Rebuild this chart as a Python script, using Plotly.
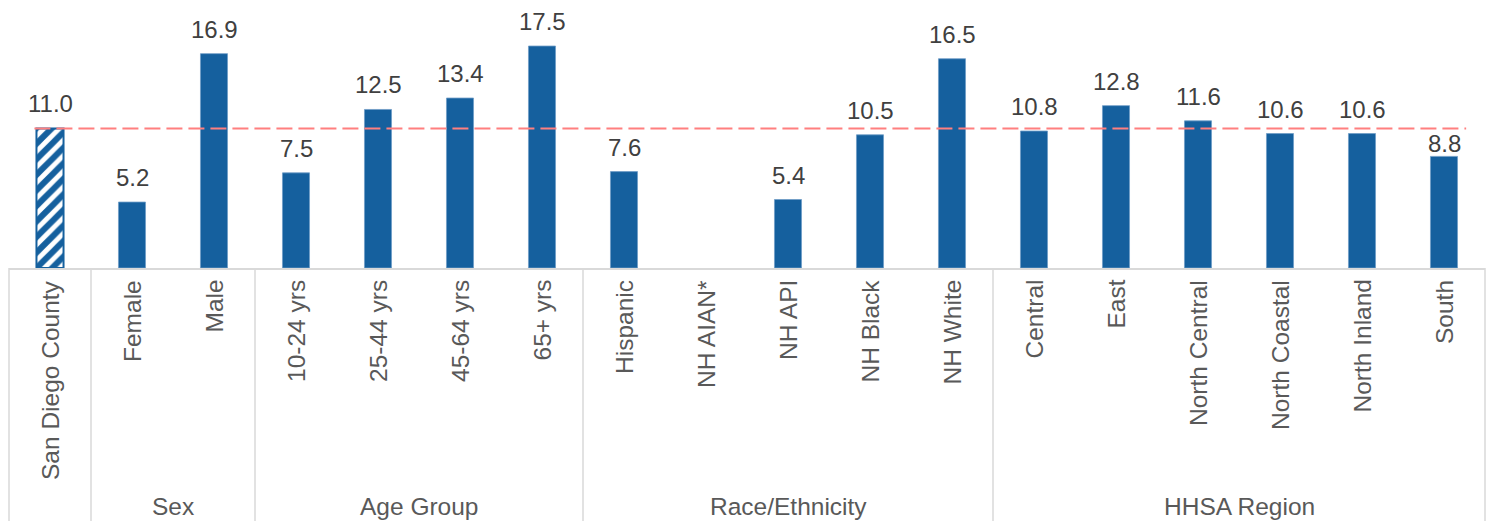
import plotly.graph_objects as go

# Rates by subgroup (NH AIAN suppressed)
categories = [
    "San Diego County",
    "Female", "Male",
    "10-24 yrs", "25-44 yrs", "45-64 yrs", "65+ yrs",
    "Hispanic", "NH AIAN*", "NH API", "NH Black", "NH White",
    "Central", "East", "North Central", "North Coastal", "North Inland", "South",
]
rates = [
    11.0,
    5.2, 16.9,
    7.5, 12.5, 13.4, 17.5,
    7.6, None, 5.4, 10.5, 16.5,
    10.8, 12.8, 11.6, 10.6, 10.6, 8.8,
]
groups = ["", "Sex", "Age Group", "Race/Ethnicity", "HHSA Region"]
group_sizes = [1, 2, 4, 5, 6]
county_rate = 11.0

# styling
W, H = 1493, 521
ML, MR, MT, MB = 9, 8, 0, 253
PLOT_H = H - MT - MB
BLUE = "#15609E"
GRID = "#D9D9D9"
FONT = "Liberation Sans, Arial, sans-serif"
VALUE_SIZE = 24
LABEL_SIZE = 24.5
label_nudge = {"South": -12}

n = len(categories)
xs = list(range(n))

fig = go.Figure()

# county bar (hatched) and subgroup bars (solid)
fig.add_trace(go.Bar(
    x=[xs[0]], y=[rates[0]], width=0.33,
    marker=dict(color="white", line=dict(color=BLUE, width=2),
                pattern=dict(shape="/", fgcolor=BLUE, bgcolor="white",
                             fgopacity=1, size=11, solidity=0.55)),
    hoverinfo="skip",
))
fig.add_trace(go.Bar(
    x=xs[1:], y=rates[1:], width=0.33,
    marker=dict(color=BLUE, line=dict(color="#6E9CC6", width=0.8)),
    hoverinfo="skip",
))

# county reference line
fig.add_trace(go.Scatter(
    x=[-0.19, n - 1 + 0.27], y=[county_rate, county_rate], mode="lines",
    line=dict(color="#FF7F7F", width=2, dash="16px,6px"),
    hoverinfo="skip",
))

annotations = []
# value labels
for x, cat, v in zip(xs, categories, rates):
    if v is None:
        continue
    annotations.append(dict(
        x=x, y=v, xref="x", yref="y", text=f"{v:.1f}", showarrow=False,
        yanchor="bottom", yshift=9 + label_nudge.get(cat, 0),
        font=dict(family=FONT, size=VALUE_SIZE, color="#404040"),
    ))


def px_to_paper(py):
    return (PLOT_H - (py - MT)) / PLOT_H


# category labels (rotated)
for x, cat in zip(xs, categories):
    annotations.append(dict(
        x=x, y=px_to_paper(278), xref="x", yref="paper", text=cat,
        showarrow=False, textangle=-90, yanchor="top", xanchor="center",
        font=dict(family=FONT, size=LABEL_SIZE, color="#595959"),
    ))

# group labels and divider lines
shapes = []
start = 0
edges = [0]
for g, size in zip(groups, group_sizes):
    end = start + size
    if g:
        annotations.append(dict(
            x=(start + end - 1) / 2, y=px_to_paper(507), xref="x", yref="paper",
            text=g, showarrow=False, yanchor="middle",
            font=dict(family=FONT, size=LABEL_SIZE, color="#595959"),
        ))
    edges.append(end)
    start = end

for e in edges:
    xp = e / n
    shapes.append(dict(
        type="line", xref="paper", yref="paper", x0=xp, x1=xp,
        y0=0, y1=-1.0, line=dict(color=GRID, width=1.5),
    ))

fig.update_layout(
    width=W, height=H,
    margin=dict(l=ML, r=MR, t=MT, b=MB, pad=0),
    paper_bgcolor="white", plot_bgcolor="white",
    showlegend=False, barmode="overlay",
    annotations=annotations, shapes=shapes,
    xaxis=dict(range=[-0.5, n - 0.5], showticklabels=False, ticks="",
               showgrid=False, zeroline=False, showline=True,
               linecolor=GRID, linewidth=1.5, fixedrange=True),
    yaxis=dict(range=[0, 21.13], showticklabels=False, ticks="",
               showgrid=False, zeroline=False, showline=False, fixedrange=True),
)

fig.write_html("out.html", config={"displayModeBar": False})
